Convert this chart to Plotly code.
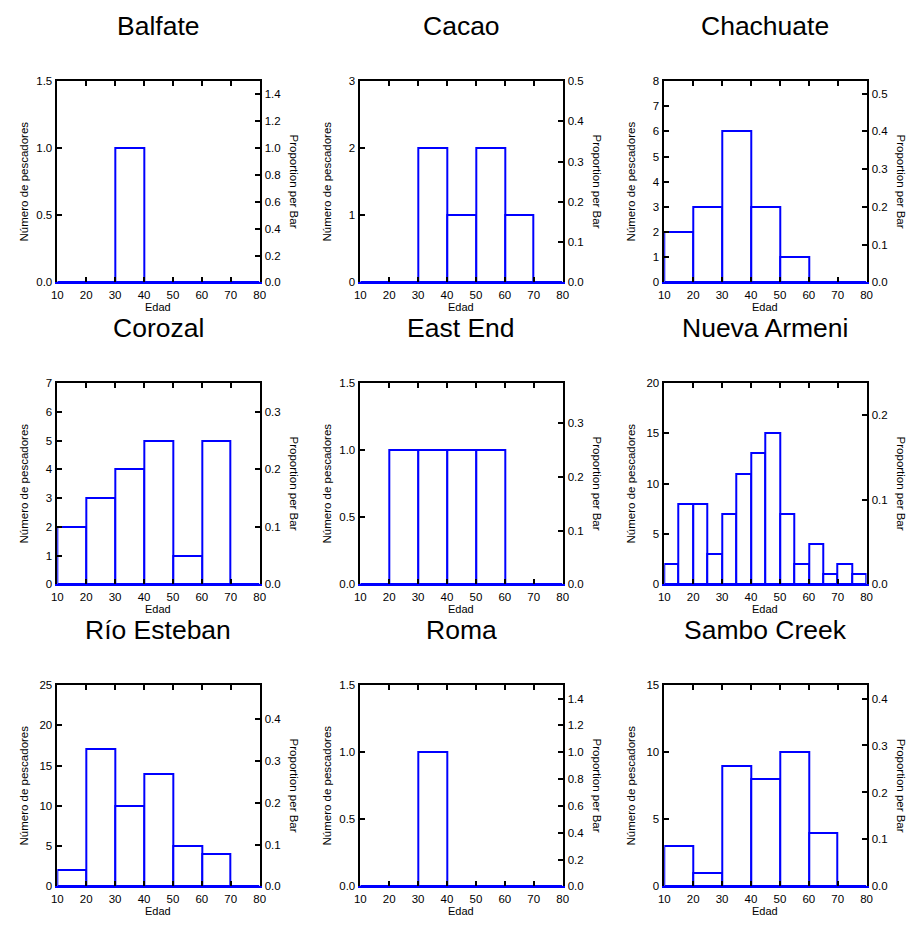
import plotly.graph_objects as go

W, H = 917, 926

# ---------------- data ----------------
names = ["Balfate", "Cacao", "Chachuate", "Corozal", "East End",
         "Nueva Armeni", "Río Esteban", "Roma", "Sambo Creek"]

edges10 = [10, 20, 30, 40, 50, 60, 70, 80]
edges5 = [10, 15, 20, 25, 30, 35, 40, 45, 50, 55, 60, 65, 70, 75, 80]

balfate_counts = [0, 0, 1, 0, 0, 0, 0]
cacao_counts = [0, 0, 2, 1, 2, 1, 0]
chachuate_counts = [2, 3, 6, 3, 1, 0, 0]
corozal_counts = [2, 3, 4, 5, 1, 5, 0]
east_end_counts = [0, 1, 1, 1, 1, 0, 0]
nueva_armeni_counts = [2, 8, 8, 3, 7, 11, 13, 15, 7, 2, 4, 1, 2, 1]
rio_esteban_counts = [2, 17, 10, 14, 5, 4, 0]
roma_counts = [0, 0, 1, 0, 0, 0, 0]
sambo_creek_counts = [3, 1, 9, 8, 10, 4, 0]

all_counts = [balfate_counts, cacao_counts, chachuate_counts, corozal_counts,
              east_end_counts, nueva_armeni_counts, rio_esteban_counts,
              roma_counts, sambo_creek_counts]
all_edges = [edges10, edges10, edges10, edges10, edges10, edges5,
             edges10, edges10, edges10]

count_max = [1.5, 3, 8, 7, 1.5, 20, 25, 1.5, 15]
count_dtick = [0.5, 1, 1, 1, 0.5, 5, 5, 0.5, 5]
count_fmt = [".1f", "d", "d", "d", ".1f", "d", "d", ".1f", "d"]
prop_dtick = [0.2, 0.1, 0.1, 0.1, 0.1, 0.1, 0.1, 0.2, 0.1]

x_ticks = [10, 20, 30, 40, 50, 60, 70, 80]

# ---------------- layout geometry (pixels) ----------------
col_left = [52, 359, 667]
col_w = 205
row_top = [76, 382, 688]
row_h = 204

FONT = "Liberation Sans, Arial, sans-serif"
BLUE = "#0000ff"


def px(xpix):
    return xpix / W


def py(ypix):
    return 1 - ypix / H


fig = go.Figure()
layout = dict(
    width=W, height=H, margin=dict(l=0, r=0, t=0, b=0),
    paper_bgcolor="white", plot_bgcolor="white",
    showlegend=False, bargap=0, font=dict(family=FONT, color="black", size=11),
)
annotations = []


def ax(n, kind):
    return kind + ("" if n == 1 else str(n))


for i, name in enumerate(names):
    r, c = divmod(i, 3)
    x0p, x1p = col_left[c], col_left[c] + col_w
    y0p, y1p = row_top[r], row_top[r] + row_h
    xd = [px(x0p), px(x1p)]
    yd = [py(y1p), py(y0p)]

    counts = all_counts[i]
    edges = all_edges[i]
    total = sum(counts)
    centers = [(edges[k] + edges[k + 1]) / 2 for k in range(len(counts))]
    widths = [edges[k + 1] - edges[k] for k in range(len(counts))]
    props = [v / total for v in counts]

    xb = 2 * i + 1      # bottom x axis
    xt = 2 * i + 2      # top x axis
    yl = 2 * i + 1      # left y axis
    yr = 2 * i + 2      # right y axis

    fig.add_trace(go.Bar(
        x=centers, y=counts, width=widths,
        marker=dict(color="white", line=dict(color=BLUE, width=2)),
        xaxis=ax(xb, "x"), yaxis=ax(yl, "y"), cliponaxis=False,
        hoverinfo="skip",
    ))
    fig.add_trace(go.Scatter(
        x=centers, y=props, mode="markers", marker=dict(opacity=0),
        xaxis=ax(xt, "x"), yaxis=ax(yr, "y"), hoverinfo="skip",
    ))

    xrange = [edges[0], edges[-1]]
    layout[ax(xb, "xaxis")] = dict(
        domain=xd, anchor=ax(yl, "y"), range=xrange,
        tickmode="array", tickvals=x_ticks,
        ticks="inside", ticklen=5, tickwidth=1.5, tickcolor="black",
        showline=True, linecolor=BLUE, linewidth=2,
        showgrid=False, zeroline=False,
        tickfont=dict(size=11.5, family=FONT, color="black"),
        ticklabelstandoff=1,
    )
    layout[ax(xt, "xaxis")] = dict(
        domain=xd, anchor=ax(yl, "y"), overlaying=ax(xb, "x"), side="top",
        range=xrange, tickmode="array", tickvals=x_ticks,
        ticks="inside", ticklen=5, tickwidth=1.5, tickcolor="black",
        showline=True, linecolor="black", linewidth=1.5,
        showticklabels=False, showgrid=False, zeroline=False,
    )
    layout[ax(yl, "yaxis")] = dict(
        domain=yd, anchor=ax(xb, "x"), range=[0, count_max[i]],
        tick0=0, dtick=count_dtick[i], tickformat=count_fmt[i],
        ticks="inside", ticklen=5, tickwidth=1.5, tickcolor="black",
        showline=True, linecolor="black", linewidth=1.5,
        showgrid=False, zeroline=False,
        tickfont=dict(size=11.5, family=FONT, color="black"),
        ticklabelstandoff=1,
    )
    layout[ax(yr, "yaxis")] = dict(
        domain=yd, anchor=ax(xb, "x"), overlaying=ax(yl, "y"), side="right",
        range=[0, count_max[i] / total], tick0=0, dtick=prop_dtick[i],
        tickformat=".1f",
        ticks="inside", ticklen=5, tickwidth=1.5, tickcolor="black",
        showline=True, linecolor="black", linewidth=1.5,
        showgrid=False, zeroline=False,
        tickfont=dict(size=11.5, family=FONT, color="black"),
        ticklabelstandoff=1,
    )

    cxp = (x0p + x1p) / 2
    cyp = (y0p + y1p) / 2
    annotations.append(dict(
        text=name, xref="paper", yref="paper", x=px(cxp), y=py(y0p - 56),
        xanchor="center", yanchor="middle", showarrow=False,
        font=dict(size=26.5, family=FONT, color="black"),
    ))
    annotations.append(dict(
        text="Edad", xref="paper", yref="paper", x=px(cxp), y=py(y1p + 25),
        xanchor="center", yanchor="middle", showarrow=False,
        font=dict(size=11, family=FONT, color="black"),
    ))
    annotations.append(dict(
        text="Número de pescadores", xref="paper", yref="paper",
        x=px(x0p - 34), y=py(cyp), textangle=-90,
        xanchor="center", yanchor="middle", showarrow=False,
        font=dict(size=11.5, family=FONT, color="black"),
    ))
    annotations.append(dict(
        text="Proportion per Bar", xref="paper", yref="paper",
        x=px(x1p + 35), y=py(cyp), textangle=90,
        xanchor="center", yanchor="middle", showarrow=False,
        font=dict(size=11.5, family=FONT, color="black"),
    ))

layout["annotations"] = annotations
fig.update_layout(**layout)
fig.write_html(
    "out.html",
    config={"displayModeBar": False},
    post_script="document.body.style.margin='0';"
                "document.body.style.overflow='hidden';",
)
